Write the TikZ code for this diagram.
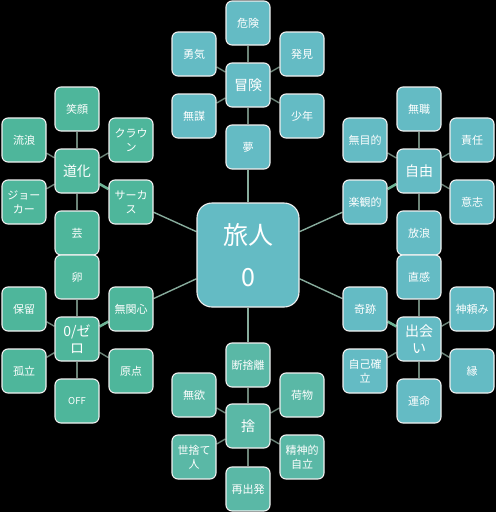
\documentclass[tikz,border=0pt]{standalone}
\usepackage{fontspec}
\newfontfamily\jpfont{Noto Sans CJK JP}
\usetikzlibrary{backgrounds}
\definecolor{tealblue}{RGB}{100,187,196}
\definecolor{tealmid}{RGB}{90,184,166}
\definecolor{tealgreen}{RGB}{78,182,155}
\definecolor{linkcol}{RGB}{135,172,156}
\definecolor{grouplink}{RGB}{108,132,120}
\definecolor{strongcol}{RGB}{110,180,150}
\tikzset{
  box/.style={rectangle, rounded corners=6pt, draw=white!88!gray, line width=1.1pt,
    minimum width=44pt, minimum height=44pt, inner sep=1pt, align=center,
    text=white, font=\jpfont\fontsize{11}{14}\selectfont},
  hub/.style={box, font=\jpfont\fontsize{14}{17}\selectfont},
  mainbox/.style={box, rounded corners=15pt, minimum width=102pt, minimum height=104pt,
    fill=tealblue, font=\jpfont\fontsize{25}{42}\selectfont},
  gblue/.style={fill=tealblue},
  gmid/.style={fill=tealmid},
  ggreen/.style={fill=tealgreen},
  link/.style={draw=linkcol, line width=1.4pt},
  group link/.style={draw=grouplink, line width=1.4pt},
  thick link/.style={draw=strongcol, line width=2.6pt},
}
\begin{document}
\begin{tikzpicture}[x=1pt,y=-1pt]
\useasboundingbox (0,0) rectangle (496,512);

% central
\node[mainbox] (tabi) at (248,255) {旅人\\0};

% 冒険 group
\node[hub,gblue] (bk) at (248,85) {冒険};
\node[box,gblue] (kiken) at (248,23) {危険};
\node[box,gblue] (yuuki) at (194,54) {勇気};
\node[box,gblue] (hakken) at (302,54) {発見};
\node[box,gblue] (mubou) at (194,116) {無謀};
\node[box,gblue] (shounen) at (302,116) {少年};
\node[box,gblue] (yume) at (248,147) {夢};

% 道化 group
\node[hub,ggreen] (dk) at (77,171) {道化};
\node[box,ggreen] (egao) at (77,109) {笑顔};
\node[box,ggreen] (ruro) at (24,140) {流浪};
\node[box,ggreen] (clown) at (131,140) {クラウ\\ン};
\node[box,ggreen] (joker) at (24,202) {ジョー\\カー};
\node[box,ggreen] (circus) at (131,202) {サーカ\\ス};
\node[box,ggreen] (gei) at (77,233) {芸};

% 自由 group
\node[hub,gblue] (jy) at (419,171) {自由};
\node[box,gblue] (mushoku) at (419,109) {無職};
\node[box,gblue] (mumokuteki) at (365,140) {無目的};
\node[box,gblue] (sekinin) at (472,140) {責任};
\node[box,gblue] (rakkan) at (365,202) {楽観的};
\node[box,gblue] (ishi) at (472,202) {意志};
\node[box,gblue] (hourou) at (419,233) {放浪};

% 0/ゼロ group
\node[hub,ggreen] (zr) at (77,339) {0/ゼ\\ロ};
\node[box,ggreen] (tamago) at (77,277) {卵};
\node[box,ggreen] (horyu) at (24,309) {保留};
\node[box,ggreen] (mukanshin) at (131,309) {無関心};
\node[box,ggreen] (koritsu) at (24,371) {孤立};
\node[box,ggreen] (genten) at (131,371) {原点};
\node[box,ggreen,font=\jpfont\fontsize{9.5}{12}\selectfont] (off) at (77,401) {OFF};

% 出会い group
\node[hub,gblue] (de) at (419,339) {出会\\い};
\node[box,gblue] (chokkan) at (419,277) {直感};
\node[box,gblue] (kiseki) at (365,309) {奇跡};
\node[box,gblue] (kamidanomi) at (472,309) {神頼み};
\node[box,gblue] (jiko) at (365,371) {自己確\\立};
\node[box,gblue] (en) at (472,371) {縁};
\node[box,gblue] (unmei) at (419,401) {運命};

% 捨 group
\node[hub,gmid] (sh) at (248,426) {捨};
\node[box,gmid] (danshari) at (248,365) {断捨離};
\node[box,gmid] (muyoku) at (194,395) {無欲};
\node[box,gmid] (nimotsu) at (302,395) {荷物};
\node[box,gmid] (yosute) at (194,457) {世捨て\\人};
\node[box,gmid] (seishin) at (302,457) {精神的\\自立};
\node[box,gmid] (saishuppatsu) at (248,489) {再出発};

\begin{scope}[on background layer]
\fill[black] (0,0) rectangle (496,512);
\foreach \h/\cs in {bk/{kiken,yuuki,hakken,mubou,shounen,yume},
                    dk/{egao,ruro,clown,joker,gei},
                    jy/{mushoku,mumokuteki,sekinin,ishi,hourou},
                    zr/{tamago,horyu,koritsu,genten,off},
                    de/{chokkan,kamidanomi,jiko,en,unmei},
                    sh/{danshari,muyoku,nimotsu,yosute,seishin,saishuppatsu}}{
  \foreach \c in \cs { \draw[group link] (\h) -- (\c); }
}
\draw[thick link] (dk) -- (circus);
\draw[thick link] (jy) -- (rakkan);
\draw[thick link] (zr) -- (mukanshin);
\draw[thick link] (de) -- (kiseki);
\foreach \c in {yume,circus,rakkan,mukanshin,kiseki,danshari}{
  \draw[link] (tabi) -- (\c);
}
\end{scope}
\end{tikzpicture}
\end{document}
